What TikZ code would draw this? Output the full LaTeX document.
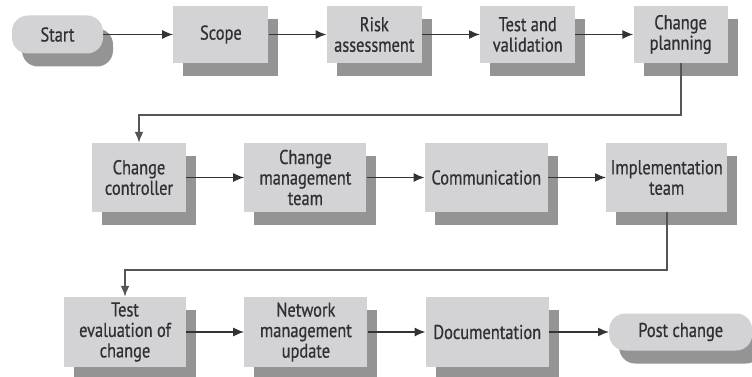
\documentclass[tikz,border=0pt]{standalone}
\usepackage{fontspec}
\setmainfont{PT Sans}[FakeStretch=0.82,FakeBold=0.6]
\usepackage{xcolor}
\usepackage{tikz}
\usetikzlibrary{arrows.meta, positioning, shadows}
\definecolor{boxgray}{HTML}{D3D3D5}
\definecolor{textgray}{HTML}{303032}
\definecolor{linegray}{HTML}{333333}
\definecolor{loopgray}{HTML}{555555}
\tikzset{
  stepbox/.style={rectangle,fill=boxgray,text=textgray,align=center,
    inner sep=2pt,minimum width=95pt,minimum height=57pt,
    font=\fontsize{20}{20.5}\selectfont,
    drop shadow={shadow xshift=10pt,shadow yshift=-13pt,fill=black!42,opacity=1}},
  terminal/.style={stepbox,rounded corners=16pt,minimum height=38pt},
  arrow/.style={-{Latex[length=11pt,width=9pt]},line width=1.5pt,draw=linegray},
  looparrow/.style={-{Latex[length=11pt,width=9pt]},line width=1.8pt,draw=loopgray}
}
\begin{document}
\begin{tikzpicture}[x=1pt,y=1pt,node distance=58pt]
  \useasboundingbox (0,0) rectangle (752,-377);
  % first row
  \node[terminal, minimum width=91pt] (start) at (57.5,-34.5) {Start};
  \node[stepbox, right=70pt of start] (scope) {Scope};
  \node[stepbox, right=of scope] (risk) {Risk\\assessment};
  \node[stepbox, right=of risk] (testval) {Test and\\validation};
  \node[stepbox, minimum width=94pt, right=of testval] (cplan) {Change\\planning};
  % second row
  \node[stepbox, minimum width=94pt, minimum height=69pt] (cctrl) at (139,-177.5) {Change\\controller};
  \node[stepbox, minimum width=122pt, minimum height=69pt, right=of cctrl] (cmteam) {Change\\management\\team};
  \node[stepbox, minimum width=123pt, minimum height=69pt, right=of cmteam] (comm) {Communication};
  \node[stepbox, minimum width=121pt, minimum height=69pt, right=of comm] (impl) {Implementation\\team};
  % third row
  \node[stepbox, minimum width=122pt, minimum height=70pt] (testeval) at (125,-332) {Test\\evaluation of\\change};
  \node[stepbox, minimum width=123pt, minimum height=70pt, right=of testeval] (netmgmt) {Network\\management\\update};
  \node[stepbox, minimum width=123pt, minimum height=70pt, right=of netmgmt] (docu) {Documentation};
  \node[terminal, minimum width=143pt, minimum height=37pt, right=60pt of docu] (post) {Post change};

  \draw[arrow] (start) -- (scope);
  \draw[arrow] (scope) -- (risk);
  \draw[arrow] (risk) -- (testval);
  \draw[arrow] (testval) -- (cplan);
  \draw[looparrow] (cplan.south) -- ++(0,-52) -| (cctrl.north);
  \draw[arrow] (cctrl) -- (cmteam);
  \draw[arrow] (cmteam) -- (comm);
  \draw[arrow] (comm) -- (impl);
  \draw[looparrow] (impl.south) -- ++(0,-58) -| (testeval.north);
  \draw[arrow] (testeval) -- (netmgmt);
  \draw[arrow] (netmgmt) -- (docu);
  \draw[arrow] (docu) -- (post);
\end{tikzpicture}
\end{document}
